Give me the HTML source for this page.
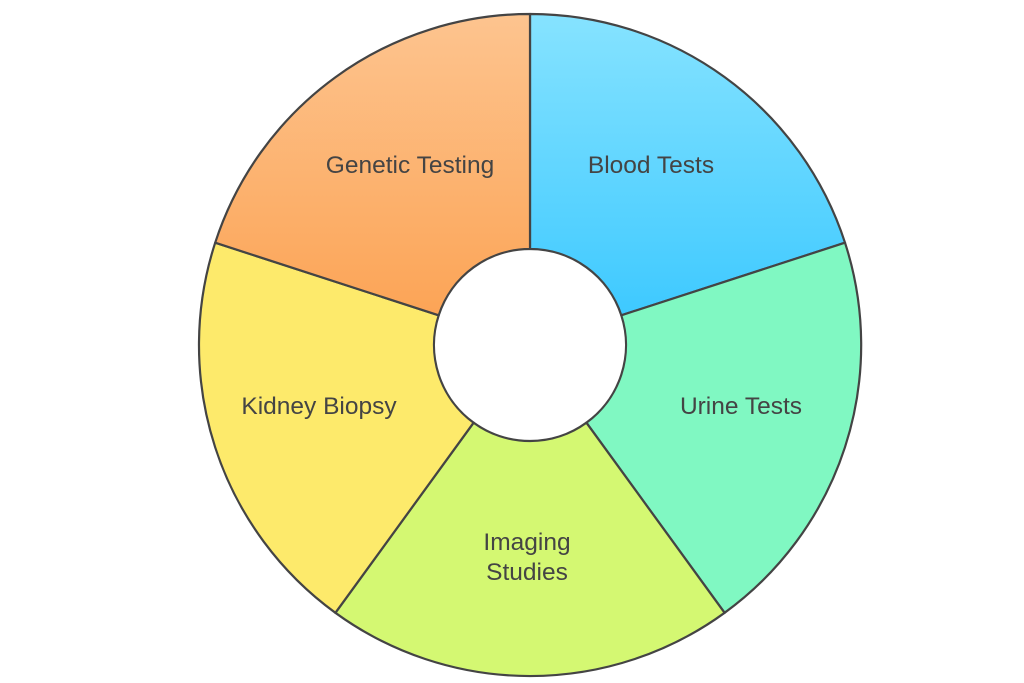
<!DOCTYPE html>
<html><head><meta charset="utf-8"><style>
html,body{margin:0;padding:0;background:#fff;}
svg{display:block;}
text{font-family:"Liberation Sans",sans-serif;font-size:24.5px;fill:#444;text-anchor:middle;}
</style></head><body>
<svg width="1024" height="683" viewBox="0 0 1024 683">
<defs>
<linearGradient id="gb" x1="0" y1="0" x2="0" y2="1"><stop offset="0" stop-color="#86e3ff"/><stop offset="1" stop-color="#3ec9ff"/></linearGradient>
<linearGradient id="go" x1="0" y1="0" x2="0" y2="1"><stop offset="0" stop-color="#fdc48f"/><stop offset="1" stop-color="#fca456"/></linearGradient>
</defs>
<g stroke="#444" stroke-width="2.2" stroke-linejoin="round">
<path d="M530,249 L530,14 A331,331 0 0 1 845,242.7 L621.3,315.3 A96,96 0 0 0 530,249 Z" fill="url(#gb)"/>
<path d="M621.3,315.3 L845,242.7 A331,331 0 0 1 724.6,612.8 L586.4,422.7 A96,96 0 0 0 621.3,315.3 Z" fill="#80f8c2"/>
<path d="M586.4,422.7 L724.6,612.8 A331,331 0 0 1 335.4,612.8 L473.6,422.7 A96,96 0 0 0 586.4,422.7 Z" fill="#d4f872"/>
<path d="M473.6,422.7 L335.4,612.8 A331,331 0 0 1 215.2,242.7 L438.7,315.3 A96,96 0 0 0 473.6,422.7 Z" fill="#fdea6b"/>
<path d="M438.7,315.3 L215.2,242.7 A331,331 0 0 1 530,14 L530,249 A96,96 0 0 0 438.7,315.3 Z" fill="url(#go)"/>
</g>
<text x="410" y="173">Genetic Testing</text>
<text x="651" y="173">Blood Tests</text>
<text x="741" y="414">Urine Tests</text>
<text x="319" y="414">Kidney Biopsy</text>
<text x="527" y="550">Imaging</text>
<text x="527" y="580">Studies</text>
</svg>
</body></html>
